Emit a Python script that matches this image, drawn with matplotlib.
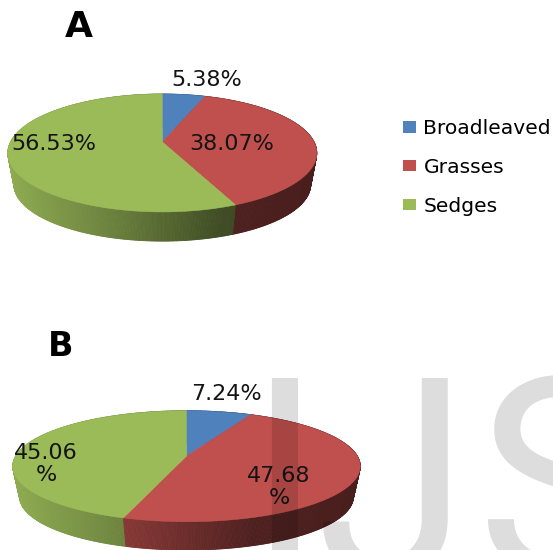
import numpy as np
import matplotlib
matplotlib.use("Agg")
import matplotlib.pyplot as plt
from matplotlib.collections import PolyCollection
from matplotlib.patches import Patch

categories = ["Broadleaved", "Grasses", "Sedges"]
shares_a = [5.38, 38.07, 56.53]
shares_b = [7.24, 47.68, 45.06]
labels_a = ["5.38%", "38.07%", "56.53%"]
labels_b = ["7.24%", "47.68\n%", "45.06\n%"]
colors = ["#4f81bd", "#c0504d", "#9bbb59"]

# Page is addressed in pixels, y growing downward
fig = plt.figure(figsize=(5.53, 5.50), dpi=100)
ax = fig.add_axes([0, 0, 1, 1])
ax.set_xlim(0, 553)
ax.set_ylim(550, 0)
ax.axis("off")


def rim(theta, cx, cy, rx, ry, k, scale=1.0, drop=0.0):
    """Project circle angles (clockwise from 12 o'clock) with a tilted perspective."""
    x, y = np.sin(theta), np.cos(theta)
    w = 1 + k * y
    return cx + scale * rx * x / w, cy + drop - scale * ry * y / w


def shade(px, left, width):
    """Side walls darken from left to right across the disc."""
    return np.interp((px - left) / width, [0, 0.35, 0.7, 1], [0.92, 0.68, 0.40, 0.38])


def pie3d(values, cx, cy, rx, ry, k, drop, base=0.96):
    edges = np.concatenate([[0], np.cumsum(values)]) / np.sum(values) * 2 * np.pi
    half = rx / np.sqrt(1 - k * k)
    left, width = cx - half, 2 * half

    # Walls, back to front so the nearest facets finish on top
    polys, faces = [], []
    for a0, a1, col in zip(edges[:-1], edges[1:], colors):
        rgb = np.array(matplotlib.colors.to_rgb(col))
        t = np.linspace(a0, a1, max(int(np.degrees(a1 - a0)) * 2, 2) + 1)
        for t0, t1 in zip(t[:-1], t[1:]):
            x0, y0 = rim(t0, cx, cy, rx, ry, k)
            x1, y1 = rim(t1, cx, cy, rx, ry, k)
            x2, y2 = rim(t1, cx, cy, rx, ry, k, base, drop)
            x3, y3 = rim(t0, cx, cy, rx, ry, k, base, drop)
            polys.append([(x0, y0), (x1, y1), (x2, y2), (x3, y3)])
            faces.append(rgb * shade((x0 + x1) / 2, left, width))
    order = np.argsort([p[2][1] for p in polys])
    ax.add_collection(PolyCollection(
        [polys[i] for i in order],
        facecolors=[faces[i] for i in order],
        edgecolors=[faces[i] for i in order],
        linewidths=0.6, zorder=2))

    # Top face
    for a0, a1, col in zip(edges[:-1], edges[1:], colors):
        t = np.linspace(a0, a1, 240)
        xs, ys = rim(t, cx, cy, rx, ry, k)
        ax.fill(np.r_[cx, xs], np.r_[cy, ys], color=col, lw=0.4, zorder=3)


pie3d(shares_a, 162.3, 142, 151.8, 56.9, 0.186, 32)
pie3d(shares_b, 186.5, 456, 170.8, 53.6, 0.184, 31)

text_opts = dict(ha="center", va="center", color="#141414", zorder=5,
                 family="DejaVu Sans")
for lab, (x, y) in zip(labels_a, [(207, 80), (232, 144), (54, 144)]):
    ax.text(x, y, lab, fontsize=16, **text_opts)
for lab, (x, y) in zip(labels_b, [(226, 394), (279, 487), (46, 464)]):
    ax.text(x, y, lab, fontsize=16, linespacing=1.15, **text_opts)

ax.text(79, 27, "A", fontsize=26, fontweight="bold", ha="center", va="center",
        family="DejaVu Sans", color="black")
ax.text(61, 346, "B", fontsize=24, fontweight="bold", ha="center", va="center",
        family="DejaVu Sans", color="black")

handles = [Patch(facecolor=c, edgecolor="none") for c in colors]
ax.legend(handles, categories, loc="upper left", bbox_to_anchor=(403, 119),
          bbox_transform=ax.transData,
          frameon=False, handlelength=0.65, handleheight=0.5,
          handletextpad=0.36, labelspacing=0.98, borderpad=0, borderaxespad=0,
          prop=dict(family="DejaVu Sans", size=14.6))

# Journal watermark laid over everything, letter by letter for its wide tracking
for letter, x in zip("IJS", [246, 316, 477]):
    ax.text(x, 576, letter, fontsize=200, family="Roboto", color="black",
            alpha=0.135, ha="left", va="baseline", zorder=6, clip_on=True)

fig.savefig("out.png", dpi=100, facecolor="white")
